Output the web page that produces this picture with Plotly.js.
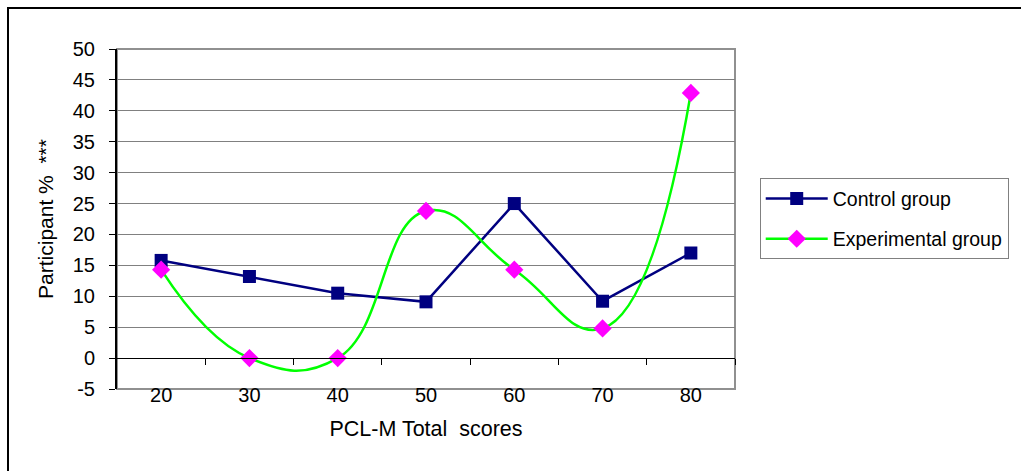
<!DOCTYPE html>
<html>
<head>
<meta charset="utf-8">
<script src="https://cdn.plot.ly/plotly-3.0.1.min.js"></script>
<style>
  html, body { margin: 0; padding: 0; background: #fff; }
  #frame { position: absolute; left: 7px; top: 7px; width: 1100px; height: 500px;
           border-left: 2px solid #000; border-top: 2px solid #000; }
  #chart { position: absolute; left: 0; top: 0; width: 1021px; height: 471px; }
</style>
</head>
<body>
<div id="frame"></div>
<div id="chart"></div>
<script>
const categories = ['20', '30', '40', '50', '60', '70', '80'];
const controlGroup = [15.8, 13.2, 10.5, 9.1, 25.0, 9.2, 17.0];
const experimentalGroup = [14.3, 0, 0, 23.8, 14.3, 4.8, 42.9];
const yTickVals = [-5, 0, 5, 10, 15, 20, 25, 30, 35, 40, 45, 50];
const yTickText = ['-5', '0', '5', '10', '15', '20', '25', '30', '35', '40', '45', '50'];
const yRange = [-5, 50];

const font = 'Liberation Sans, Arial, sans-serif';
const zeroPos = (0 - yRange[0]) / (yRange[1] - yRange[0]);
const boundaryTicks = categories.map((c, i) => i + 0.5);

const traces = [
  {
    name: 'Control group', x: categories, y: controlGroup,
    type: 'scatter', mode: 'lines+markers',
    line: { color: '#000080', width: 2.5 },
    marker: { symbol: 'square', size: 13, color: '#000080' },
    legendgroup: 'a'
  },
  {
    name: 'Experimental group', x: categories, y: experimentalGroup,
    type: 'scatter', mode: 'lines+markers',
    line: { color: '#00FF00', width: 2.5, shape: 'spline', smoothing: 1.3 },
    marker: { symbol: 'diamond', size: 14, color: '#FF00FF' },
    legendgroup: 'b'
  },
  { x: [], y: [], xaxis: 'x2', showlegend: false, hoverinfo: 'skip', type: 'scatter' }
];

const layout = {
  width: 1021, height: 471,
  margin: { l: 117, r: 284, t: 49, b: 82 },
  paper_bgcolor: 'rgba(0,0,0,0)', plot_bgcolor: '#fff',
  font: { family: font, size: 20, color: '#000' },
  showlegend: true,
  legend: {
    x: 1.04, y: 0.62, xanchor: 'left', yanchor: 'top',
    bordercolor: '#808080', borderwidth: 1, bgcolor: '#fff',
    font: { family: font, size: 19.5, color: '#000' },
    tracegroupgap: 12, itemwidth: 62
  },
  xaxis: {
    type: 'category', range: [-0.5, categories.length - 0.5],
    showgrid: false, showline: false, zeroline: false, ticks: '',
    tickfont: { family: font, size: 20 },
    ticklabelstandoff: -8,
    title: { text: 'PCL-M Total\u00a0 scores', font: { family: font, size: 21.5 }, standoff: 15 },
    automargin: false
  },
  xaxis2: {
    overlaying: 'x', anchor: 'free', position: zeroPos,
    type: 'linear', range: [-0.5, categories.length - 0.5],
    showline: true, linecolor: '#000', linewidth: 1,
    ticks: 'outside', ticklen: 6, tickcolor: '#000', tickwidth: 1,
    tickvals: boundaryTicks, showticklabels: false,
    showgrid: false, zeroline: false
  },
  yaxis: {
    range: yRange, tickvals: yTickVals, ticktext: yTickText,
    showgrid: true, gridcolor: '#808080', gridwidth: 1,
    zeroline: true, zerolinecolor: '#000', zerolinewidth: 1,
    showline: true, linecolor: '#000', linewidth: 2,
    ticks: 'outside', ticklen: 6, tickcolor: '#000',
    tickfont: { family: font, size: 20 },
    ticklabelstandoff: 10,
    title: { text: 'Participant %\u00a0 ***', font: { family: font, size: 21 }, standoff: 13 },
    automargin: false
  },
  shapes: [
    { type: 'rect', xref: 'paper', yref: 'paper', x0: 0, x1: 1, y0: 0, y1: 1,
      line: { color: '#909090', width: 2 }, layer: 'below' }
  ]
};

Plotly.newPlot('chart', traces, layout, { displayModeBar: false, staticPlot: true });
</script>
</body>
</html>
